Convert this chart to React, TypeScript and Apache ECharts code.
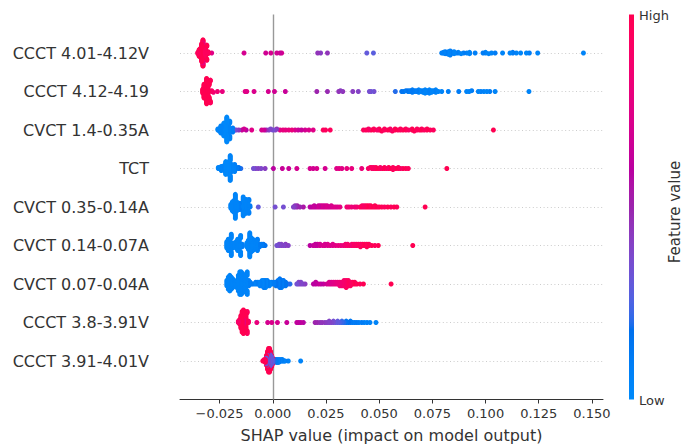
import React, { useEffect, useRef } from 'react';
import * as echarts from 'echarts';

// Feature names, top to bottom
const features = [
  'CCCT 4.01-4.12V',
  'CCCT 4.12-4.19',
  'CVCT 1.4-0.35A',
  'TCT',
  'CVCT 0.35-0.14A',
  'CVCT 0.14-0.07A',
  'CVCT 0.07-0.04A',
  'CCCT 3.8-3.91V',
  'CCCT 3.91-4.01V',
];

const xTicks = [-0.025, 0, 0.025, 0.05, 0.075, 0.1, 0.125, 0.15];
const xMin = -0.0436;
const xMax = 0.1552;

// Each entry: [SHAP value, feature value (0 = low, 1 = high), number of samples]
const row1 = [
  [-0.0352, 0.95, 3], [-0.0346, 1, 8], [-0.034, 1, 14], [-0.0334, 1, 14], [-0.0328, 0.8, 3], [-0.0328, 1, 10], [-0.0322, 0.95, 10], [-0.0316, 1, 8], [-0.031, 1, 6], [-0.0304, 0.95, 4],
  [-0.0287, 0.75, 1], [-0.0135, 0.7, 1], [-0.0033, 0.68, 1], [-0.0009, 0.7, 1], [0.0019, 0.68, 1], [0.0034, 0.65, 1], [0.0042, 0.7, 1],
  [0.0211, 0.45, 1], [0.0225, 0.42, 1], [0.0257, 0.45, 1], [0.0442, 0.3, 1], [0.0473, 0.28, 1],
  [0.0794, 0.08, 1], [0.0802, 0.05, 2], [0.081, 0.1, 2], [0.0818, 0.05, 3], [0.0826, 0.05, 2], [0.0834, 0.1, 2], [0.0842, 0.05, 2], [0.0852, 0.05, 2], [0.0862, 0.1, 1], [0.0872, 0.05, 2], [0.0885, 0.05, 1], [0.0897, 0.1, 1], [0.0912, 0.05, 1], [0.0925, 0.05, 2],
  [0.0951, 0.08, 1], [0.0988, 0.1, 1], [0.1, 0.05, 2], [0.1015, 0.05, 1], [0.1028, 0.05, 1], [0.1045, 0.1, 1], [0.108, 0.05, 1], [0.1115, 0.05, 1], [0.1128, 0.1, 2], [0.1145, 0.05, 1], [0.1165, 0.05, 1], [0.1192, 0.05, 1], [0.1206, 0.1, 1], [0.1245, 0.05, 1], [0.146, 0.05, 1],
];

const row2 = [
  [-0.0329, 1, 6], [-0.0323, 1, 12], [-0.0317, 1, 16], [-0.0311, 1, 16], [-0.0305, 1, 14], [-0.0299, 1, 10], [-0.0293, 0.95, 5], [-0.0287, 0.9, 2],
  [-0.0279, 0.85, 1], [-0.026, 0.85, 1], [-0.0237, 0.8, 1],
  [-0.013, 0.75, 1], [-0.0122, 0.75, 1], [-0.0088, 0.72, 1],
  [-0.0021, 0.7, 1], [0.0008, 0.68, 1], [0.0059, 0.65, 1],
  [0.0207, 0.5, 1], [0.0257, 0.48, 1], [0.031, 0.45, 1], [0.0318, 0.42, 1], [0.0329, 0.45, 1], [0.0376, 0.42, 1], [0.0402, 0.4, 1], [0.0454, 0.35, 1], [0.0462, 0.32, 1], [0.0476, 0.35, 1],
  [0.0576, 0.2, 1], [0.0606, 0.15, 1], [0.0616, 0.1, 1], [0.0626, 0.15, 1], [0.0636, 0.1, 2], [0.0646, 0.12, 2], [0.0656, 0.1, 2], [0.0666, 0.08, 2], [0.0676, 0.1, 2], [0.0686, 0.05, 2], [0.0696, 0.08, 2], [0.0706, 0.05, 3], [0.0716, 0.05, 2], [0.0726, 0.08, 3], [0.0736, 0.05, 2], [0.0746, 0.05, 3], [0.0756, 0.08, 2], [0.0766, 0.05, 2], [0.0778, 0.05, 1], [0.0794, 0.05, 1],
  [0.0825, 0.08, 1], [0.0874, 0.1, 1], [0.0911, 0.05, 1], [0.0923, 0.05, 1], [0.0935, 0.1, 1], [0.0966, 0.05, 1], [0.0978, 0.08, 1], [0.0992, 0.05, 1], [0.1006, 0.05, 1], [0.102, 0.1, 1], [0.1045, 0.05, 1], [0.1204, 0.05, 1],
];

const row3 = [
  [-0.0258, 0.05, 2], [-0.0251, 0.05, 3], [-0.0244, 0.05, 5], [-0.0237, 0.02, 6], [-0.023, 0.02, 8], [-0.0223, 0.02, 12], [-0.0216, 0.02, 14], [-0.0209, 0.05, 12], [-0.0202, 0.05, 7], [-0.0195, 0.08, 3], [-0.0188, 0.1, 2],
  [-0.018, 0.35, 1], [-0.0172, 0.4, 1], [-0.016, 0.45, 1], [-0.0145, 0.65, 1], [-0.0135, 0.7, 1], [-0.0125, 0.6, 1], [-0.0099, 0.75, 1],
  [-0.0052, 0.7, 1], [-0.004, 0.65, 1], [-0.003, 0.45, 1], [-0.0018, 0.4, 1], [-0.001, 0.38, 1], [0.0, 0.35, 1], [0.0012, 0.4, 1], [0.0019, 0.45, 1],
  [0.0034, 0.78, 1], [0.0048, 0.8, 1], [0.006, 0.78, 1], [0.0075, 0.8, 1], [0.009, 0.8, 1], [0.0105, 0.7, 1], [0.012, 0.65, 1], [0.0135, 0.65, 1], [0.0152, 0.7, 1], [0.017, 0.72, 1], [0.019, 0.75, 1],
  [0.0237, 0.95, 1], [0.0248, 0.95, 1], [0.027, 0.95, 1],
  [0.0426, 0.95, 1], [0.0438, 0.95, 1], [0.045, 0.9, 2], [0.0462, 1, 1], [0.0475, 0.95, 2], [0.049, 0.9, 1], [0.05, 1, 2], [0.0512, 0.95, 1], [0.0525, 0.95, 2], [0.054, 1, 1], [0.0552, 0.9, 2], [0.0562, 0.95, 1], [0.0575, 1, 2], [0.0588, 0.95, 1], [0.06, 0.95, 2], [0.0612, 1, 1], [0.0625, 0.95, 2], [0.0638, 0.9, 1], [0.0655, 1, 2], [0.0665, 0.95, 1], [0.0678, 0.95, 2], [0.069, 1, 1], [0.07, 0.95, 2], [0.0712, 0.95, 1], [0.0725, 1, 2], [0.074, 0.95, 1], [0.0755, 0.95, 1],
  [0.1037, 1, 1],
];

const row4 = [
  [-0.0256, 0.05, 2], [-0.0249, 0.05, 2], [-0.0242, 0.05, 3], [-0.0235, 0.02, 4], [-0.0228, 0.02, 6], [-0.0221, 0.02, 8], [-0.0214, 0.02, 12], [-0.0207, 0.02, 14], [-0.02, 0.05, 12], [-0.0193, 0.05, 8], [-0.0186, 0.05, 5], [-0.0179, 0.08, 3], [-0.017, 0.1, 2], [-0.016, 0.15, 2], [-0.015, 0.2, 1],
  [-0.0091, 0.35, 1], [-0.008, 0.4, 1], [-0.0068, 0.4, 1], [-0.0055, 0.38, 1], [-0.0036, 0.42, 1],
  [0.0003, 0.6, 1], [0.0045, 0.65, 1], [0.0075, 0.65, 1], [0.0113, 0.7, 1],
  [0.0175, 0.7, 1], [0.019, 0.68, 1], [0.0207, 0.72, 1], [0.0246, 0.7, 1], [0.03, 0.75, 1], [0.0312, 0.78, 1], [0.0325, 0.75, 1], [0.0348, 0.8, 1], [0.0371, 0.8, 1], [0.0418, 0.82, 1],
  [0.0449, 0.9, 1], [0.0458, 0.95, 1], [0.0466, 0.9, 2], [0.0475, 0.95, 2], [0.0485, 1, 2], [0.0495, 0.95, 1], [0.0505, 0.9, 2], [0.0515, 1, 1], [0.0525, 0.95, 2], [0.0535, 0.9, 1], [0.0545, 1, 2], [0.0555, 0.95, 1], [0.0565, 0.95, 2], [0.0578, 1, 1], [0.059, 0.95, 2], [0.06, 0.9, 1], [0.0612, 1, 1], [0.0625, 0.95, 1], [0.0637, 0.95, 1],
  [0.0818, 1, 1],
];

const row5 = [
  [-0.0197, 0.05, 4], [-0.019, 0.05, 8], [-0.0183, 0.05, 10], [-0.0176, 0.05, 10], [-0.0169, 0.05, 8], [-0.0162, 0.08, 4], [-0.0157, 0.1, 2],
  [-0.0146, 0.05, 6], [-0.0139, 0.05, 10], [-0.0132, 0.05, 12], [-0.0125, 0.05, 12], [-0.0118, 0.05, 8], [-0.0112, 0.08, 4], [-0.0107, 0.1, 2],
  [-0.0068, 0.3, 1], [0.0011, 0.35, 1], [0.005, 0.35, 1],
  [0.0097, 0.4, 1], [0.0105, 0.45, 2], [0.0115, 0.5, 2], [0.0128, 0.5, 1], [0.0144, 0.55, 1],
  [0.0175, 0.6, 1], [0.0185, 0.65, 1], [0.0195, 0.62, 2], [0.0205, 0.68, 1], [0.0215, 0.65, 2], [0.0225, 0.7, 2], [0.0235, 0.68, 2], [0.0245, 0.72, 2], [0.0255, 0.7, 2], [0.0265, 0.7, 1], [0.0275, 0.72, 2], [0.0285, 0.75, 1], [0.0295, 0.72, 1], [0.0305, 0.75, 1], [0.0316, 0.78, 1],
  [0.0348, 0.85, 1], [0.0358, 0.85, 1], [0.037, 0.82, 1], [0.0385, 0.85, 1], [0.0395, 0.88, 1],
  [0.041, 0.95, 1], [0.042, 0.9, 2], [0.043, 0.95, 2], [0.044, 1, 2], [0.045, 0.95, 2], [0.046, 1, 2], [0.047, 0.95, 1], [0.048, 1, 2], [0.049, 0.95, 1], [0.05, 1, 1], [0.0512, 0.95, 1], [0.0525, 0.95, 1], [0.054, 1, 1], [0.0555, 0.95, 1], [0.057, 1, 1], [0.0583, 0.95, 1],
  [0.0716, 1, 1],
];

const row6 = [
  [-0.0216, 0.05, 6], [-0.0209, 0.05, 10], [-0.0202, 0.05, 10], [-0.0195, 0.05, 8], [-0.0188, 0.05, 5], [-0.018, 0.05, 2],
  [-0.0172, 0.05, 6], [-0.0165, 0.05, 10], [-0.0158, 0.05, 10], [-0.0151, 0.05, 7], [-0.0144, 0.08, 3],
  [-0.0122, 0.05, 4], [-0.0115, 0.05, 8], [-0.0108, 0.05, 12], [-0.0101, 0.05, 12], [-0.0094, 0.05, 10], [-0.0087, 0.05, 8], [-0.008, 0.05, 6], [-0.0072, 0.08, 4], [-0.0062, 0.1, 3], [-0.0052, 0.1, 2], [-0.0044, 0.15, 2], [-0.0036, 0.15, 1],
  [0.0019, 0.35, 1], [0.003, 0.38, 2], [0.004, 0.4, 2], [0.005, 0.38, 1], [0.006, 0.42, 2], [0.0073, 0.4, 1],
  [0.0175, 0.6, 1], [0.019, 0.65, 1], [0.02, 0.62, 2], [0.021, 0.68, 2], [0.0222, 0.7, 2], [0.0235, 0.72, 1], [0.0245, 0.7, 2], [0.0258, 0.75, 2], [0.027, 0.72, 1], [0.0282, 0.75, 2], [0.0295, 0.78, 1], [0.0308, 0.8, 1], [0.032, 0.8, 1],
  [0.0332, 0.85, 1], [0.0342, 0.88, 2], [0.0352, 0.9, 2], [0.0362, 0.85, 1], [0.0372, 0.92, 2], [0.0382, 0.9, 2], [0.0392, 0.95, 2], [0.0402, 0.92, 2], [0.0412, 0.95, 3], [0.0422, 1, 2], [0.0432, 0.95, 2], [0.0442, 1, 3], [0.0452, 0.95, 2], [0.0465, 1, 1], [0.048, 0.95, 1], [0.0496, 1, 1],
  [0.0658, 1, 1],
];

const row7 = [
  [-0.0216, 0.05, 4], [-0.0209, 0.05, 8], [-0.0202, 0.05, 10], [-0.0195, 0.05, 8], [-0.0188, 0.05, 6], [-0.0181, 0.05, 3],
  [-0.0169, 0.05, 5], [-0.0162, 0.05, 10], [-0.0155, 0.05, 14], [-0.0148, 0.05, 14], [-0.0141, 0.05, 12], [-0.0134, 0.05, 10], [-0.0127, 0.05, 8], [-0.012, 0.05, 6], [-0.0113, 0.08, 4], [-0.0106, 0.1, 2],
  [-0.0099, 0.1, 1], [-0.009, 0.05, 1], [-0.008, 0.1, 2], [-0.007, 0.05, 2], [-0.006, 0.08, 3], [-0.005, 0.05, 4], [-0.0042, 0.1, 5], [-0.0034, 0.05, 5], [-0.0026, 0.1, 4], [-0.0016, 0.05, 3], [-0.0006, 0.1, 2], [0.0005, 0.1, 2], [0.0015, 0.15, 3], [0.0025, 0.1, 4], [0.0033, 0.15, 6], [0.0041, 0.1, 5], [0.005, 0.15, 4], [0.006, 0.15, 3], [0.007, 0.2, 1], [0.0081, 0.2, 1],
  [0.0113, 0.35, 1], [0.0122, 0.4, 2], [0.0132, 0.38, 2], [0.0142, 0.4, 1], [0.0152, 0.42, 1],
  [0.0191, 0.6, 1], [0.0202, 0.62, 2], [0.0215, 0.65, 1], [0.0226, 0.6, 1], [0.0238, 0.65, 1],
  [0.0254, 0.7, 1], [0.0265, 0.72, 2], [0.0275, 0.75, 2], [0.0285, 0.78, 2], [0.0295, 0.8, 2], [0.0305, 0.82, 2], [0.0315, 0.85, 3], [0.0325, 0.88, 3], [0.0335, 0.9, 4], [0.0345, 0.95, 5], [0.0355, 0.92, 4], [0.0365, 0.95, 3], [0.0375, 1, 2], [0.0385, 0.95, 2], [0.0395, 1, 1], [0.041, 0.95, 1], [0.0426, 1, 1],
  [0.0556, 1, 1],
];

const row8 = [
  [-0.0162, 0.9, 2], [-0.0156, 1, 4], [-0.015, 1, 10], [-0.0144, 1, 16], [-0.0138, 0.8, 4], [-0.0138, 1, 14], [-0.0132, 1, 16], [-0.0126, 1, 12], [-0.012, 0.95, 5], [-0.0114, 0.9, 2],
  [-0.0075, 0.8, 1], [-0.0024, 0.7, 1], [-0.0005, 0.72, 1], [0.0022, 0.7, 1], [0.0066, 0.65, 1], [0.0113, 0.62, 1], [0.0122, 0.6, 1], [0.0132, 0.62, 1], [0.0144, 0.58, 1],
  [0.0199, 0.5, 1], [0.021, 0.48, 1], [0.0222, 0.45, 1], [0.0232, 0.45, 1], [0.0245, 0.42, 1], [0.0255, 0.4, 1], [0.0265, 0.4, 2], [0.0275, 0.38, 1], [0.0285, 0.35, 2], [0.0295, 0.3, 1], [0.0305, 0.3, 2], [0.0315, 0.25, 1], [0.0325, 0.22, 2], [0.0335, 0.2, 1], [0.0345, 0.15, 2], [0.0355, 0.18, 1], [0.0365, 0.12, 2], [0.0375, 0.1, 1], [0.0385, 0.12, 1], [0.0395, 0.1, 1], [0.0405, 0.08, 1], [0.0418, 0.1, 1], [0.043, 0.05, 1], [0.0443, 0.08, 1], [0.0457, 0.05, 1], [0.0485, 0.05, 1],
];

const row9 = [
  [-0.0047, 1, 1], [-0.0041, 0.95, 2], [-0.0035, 1, 3], [-0.003, 0.32, 5], [-0.003, 1, 3], [-0.0025, 0.3, 8], [-0.0025, 1, 6], [-0.002, 0.35, 10], [-0.002, 1, 8], [-0.0015, 0.3, 10], [-0.0015, 1, 8], [-0.001, 0.32, 8], [-0.001, 1, 6], [-0.0005, 0.3, 6], [-0.0005, 0.95, 3], [0.0, 0.25, 3], [0.0, 1, 2], [0.0005, 0.2, 2], [0.0011, 0.1, 2],
  [0.0016, 0.1, 3], [0.0022, 0.05, 3], [0.0028, 0.1, 3], [0.0034, 0.05, 2], [0.004, 0.1, 2], [0.0046, 0.05, 2], [0.0052, 0.05, 1], [0.0058, 0.1, 1], [0.0073, 0.05, 1], [0.0131, 0.05, 1],
];

const rows = [row1, row2, row3, row4, row5, row6, row7, row8, row9];

// SHAP's red_blue colour map (interpolated in LCh space)
function lab2hex(L: number, a: number, b: number): string {
  const fy = (L + 16) / 116;
  const fx = fy + a / 500;
  const fz = fy - b / 200;
  const d = 6 / 29;
  const finv = (t: number) => (t > d ? t * t * t : 3 * d * d * (t - 4 / 29));
  const X = 0.95047 * finv(fx);
  const Y = finv(fy);
  const Z = 1.08883 * finv(fz);
  const lin = [
    3.2406 * X - 1.5372 * Y - 0.4986 * Z,
    -0.9689 * X + 1.8758 * Y + 0.0415 * Z,
    0.0557 * X - 0.204 * Y + 1.057 * Z,
  ];
  return (
    '#' +
    lin
      .map((v) => {
        const g = v <= 0.0031308 ? 12.92 * v : 1.055 * Math.pow(v, 1 / 2.4) - 0.055;
        const c = Math.round(Math.min(1, Math.max(0, g)) * 255);
        return c.toString(16).padStart(2, '0');
      })
      .join('')
  );
}

function redBlue(): string[] {
  const n = 100;
  const out: string[] = [];
  const h0 = 4.6588;
  const h1 = 0.35470565 + 2 * Math.PI;
  for (let i = 0; i < n; i++) {
    const l = i < 50 ? 54 + (40 - 54) * (i / 49) : 40 + (54 - 40) * ((i - 50) / 49);
    const c = 70 + (90 - 70) * (i / (n - 1));
    const h = h0 + (h1 - h0) * (i / (n - 1));
    out.push(lab2hex(l, c * Math.cos(h), c * Math.sin(h)));
  }
  return out;
}

// SHAP beeswarm stacking: bin the values, stack points within a bin alternately up and down
function beeswarm(xs: number[]): number[] {
  const N = xs.length;
  const nbins = 100;
  const mn = Math.min(...xs);
  const mx = Math.max(...xs);
  const quant = xs.map((x) => Math.round((nbins * (x - mn)) / (mx - mn + 1e-8)));
  const inds = xs.map((_, i) => i).sort((a, b) => quant[a] - quant[b] || a - b);
  const ys = new Array(N).fill(0);
  let layer = 0;
  let last = -1;
  for (const ind of inds) {
    if (quant[ind] !== last) layer = 0;
    ys[ind] = Math.ceil(layer / 2) * ((layer % 2) * 2 - 1);
    layer++;
    last = quant[ind];
  }
  const m = Math.max(...ys.map((y) => y + 1));
  return ys.map((y) => y * 0.9 * (0.4 / m));
}

const FONT = 'DejaVu Sans';

export default function App() {
  const ref = useRef<HTMLDivElement>(null);

  useEffect(() => {
    if (!ref.current) return;
    const chart = echarts.init(ref.current, null, { renderer: 'svg' });
    const colors = redBlue();
    const n = features.length;

    const data: number[][] = [];
    // draw bottom row first, as shap does
    for (let r = n - 1; r >= 0; r--) {
      const pos = n - 1 - r;
      const xs: number[] = [];
      const fv: number[] = [];
      for (const [x, f, c] of rows[r]) {
        for (let k = 0; k < c; k++) {
          xs.push(x);
          fv.push(f);
        }
      }
      const ys = beeswarm(xs);
      // outer layers first so the centre of each swarm stays visible
      for (let i = xs.length - 1; i >= 0; i--) data.push([xs[i], pos + ys[i], fv[i]]);
    }

    const rowLines = features.map((_, i) => ({
      yAxis: i,
      lineStyle: { color: '#cccccc', width: 1, type: [1, 2.6] as any },
    }));

    chart.setOption({
      animation: false,
      grid: { left: 180, right: 81, top: 14.5, bottom: 47.5, outerBoundsMode: 'none' },
      xAxis: {
        type: 'value',
        min: xMin,
        max: xMax,
        axisLine: { show: true, onZero: false, lineStyle: { color: '#333333', width: 1 } },
        axisTick: { show: true, customValues: xTicks, length: 4, lineStyle: { color: '#333333' } },
        axisLabel: {
          customValues: xTicks,
          formatter: (v: number) => (v < 0 ? '\u2212' : '') + Math.abs(v).toFixed(3),
          color: '#333333',
          fontSize: 13,
          fontFamily: FONT,
          margin: 7,
        },
        splitLine: { show: false },
        name: 'SHAP value (impact on model output)',
        nameLocation: 'middle',
        nameGap: 28,
        nameTextStyle: { fontSize: 16, color: '#333333', fontFamily: FONT },
      },
      yAxis: {
        type: 'value',
        min: -1,
        max: 9,
        interval: 1,
        axisLine: { show: false, onZero: false },
        axisTick: { show: false },
        splitLine: { show: false },
        axisLabel: {
          formatter: (v: number) => {
            const i = Math.round(v);
            return i >= 0 && i < n ? features[n - 1 - i] : '';
          },
          color: '#333333',
          fontSize: 16,
          fontFamily: FONT,
          margin: 31,
        },
      },
      visualMap: {
        type: 'continuous',
        show: false,
        min: 0,
        max: 1,
        dimension: 2,
        seriesIndex: 0,
        inRange: { color: colors },
      },
      series: [
        {
          type: 'scatter',
          data,
          symbolSize: 5,
          z: 3,
          silent: true,
          itemStyle: { opacity: 1, borderWidth: 0 },
          emphasis: { disabled: true },
          markLine: {
            silent: true,
            symbol: 'none',
            z: 1,
            label: { show: false },
            emphasis: { disabled: true },
            data: [
              ...rowLines,
              { xAxis: 0, lineStyle: { color: '#999999', width: 1.4, type: 'solid' } },
            ],
          },
        },
      ],
      graphic: [
        {
          type: 'rect',
          silent: true,
          shape: { x: 629, y: 14.5, width: 5, height: 385 },
          style: {
            fill: new echarts.graphic.LinearGradient(
              0,
              0,
              0,
              1,
              colors.map((c, i) => ({ offset: 1 - i / (colors.length - 1), color: c })).reverse()
            ),
          },
        },
        {
          type: 'text',
          silent: true,
          x: 639,
          y: 15,
          style: { text: 'High', fill: '#333333', fontSize: 13, fontFamily: FONT, align: 'left', verticalAlign: 'middle' },
        },
        {
          type: 'text',
          silent: true,
          x: 639,
          y: 400,
          style: { text: 'Low', fill: '#333333', fontSize: 13, fontFamily: FONT, align: 'left', verticalAlign: 'middle' },
        },
        {
          type: 'text',
          silent: true,
          x: 675,
          y: 212,
          rotation: Math.PI / 2,
          style: { text: 'Feature value', fill: '#333333', fontSize: 15, fontFamily: FONT, align: 'center', verticalAlign: 'middle' },
        },
      ],
    });

    return () => chart.dispose();
  }, []);

  return (
    <div
      ref={ref}
      style={{ position: 'fixed', left: 0, top: 0, width: 684, height: 447, background: '#ffffff' }}
    />
  );
}
